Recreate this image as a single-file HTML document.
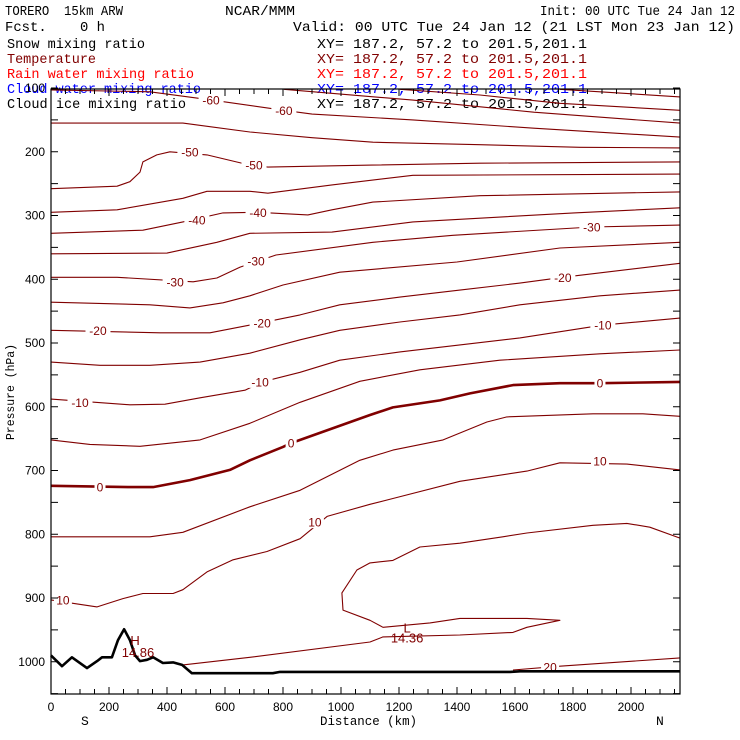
<!DOCTYPE html>
<html><head><meta charset="utf-8"><style>
html,body{margin:0;padding:0;background:#fff;}
svg{display:block;font-family:"Liberation Mono","DejaVu Sans Mono",monospace;}
#hdr text{white-space:pre;}
</style></head><body>
<svg id="chart" width="740" height="740" viewBox="0 0 740 740" xmlns="http://www.w3.org/2000/svg" xml:space="preserve">
<g id="hdr" font-size="14">
<text x="5" y="15" textLength="118" lengthAdjust="spacingAndGlyphs">TORERO  15km ARW</text>
<text x="225" y="15" textLength="70" lengthAdjust="spacingAndGlyphs">NCAR/MMM</text>
<text x="540" y="15" textLength="195" lengthAdjust="spacingAndGlyphs">Init: 00 UTC Tue 24 Jan 12</text>
<text x="5" y="31" textLength="100" lengthAdjust="spacingAndGlyphs">Fcst.    0 h</text>
<text x="293" y="31" textLength="442" lengthAdjust="spacingAndGlyphs">Valid: 00 UTC Tue 24 Jan 12 (21 LST Mon 23 Jan 12)</text>
<text x="7" y="48" fill="#000" textLength="138" lengthAdjust="spacingAndGlyphs">Snow mixing ratio</text>
<text x="317" y="48" fill="#000" textLength="270" lengthAdjust="spacingAndGlyphs">XY= 187.2, 57.2 to 201.5,201.1</text>
<text x="7" y="63" fill="#800000" textLength="89" lengthAdjust="spacingAndGlyphs">Temperature</text>
<text x="317" y="63" fill="#800000" textLength="270" lengthAdjust="spacingAndGlyphs">XY= 187.2, 57.2 to 201.5,201.1</text>
<text x="7" y="78" fill="#ff0000" textLength="187" lengthAdjust="spacingAndGlyphs">Rain water mixing ratio</text>
<text x="317" y="78" fill="#ff0000" textLength="270" lengthAdjust="spacingAndGlyphs">XY= 187.2, 57.2 to 201.5,201.1</text>
<text x="7" y="93" fill="#0000ff" textLength="194" lengthAdjust="spacingAndGlyphs">Cloud water mixing ratio</text>
<text x="317" y="93" fill="#0000ff" textLength="270" lengthAdjust="spacingAndGlyphs">XY= 187.2, 57.2 to 201.5,201.1</text>
<text x="7" y="108" fill="#000" textLength="179" lengthAdjust="spacingAndGlyphs">Cloud ice mixing ratio</text>
<text x="317" y="108" fill="#000" textLength="270" lengthAdjust="spacingAndGlyphs">XY= 187.2, 57.2 to 201.5,201.1</text>
</g>
<g id="plot"></g>
<text x="0" y="0" font-size="12" transform="translate(14,392) rotate(-90)" text-anchor="middle" textLength="96" lengthAdjust="spacingAndGlyphs">Pressure (hPa)</text>
<text x="320" y="725" font-size="13" textLength="97" lengthAdjust="spacingAndGlyphs">Distance (km)</text>
<text x="81" y="725" font-size="13">S</text>
<text x="656" y="725" font-size="13">N</text>
</svg>
<script>
// ---- data ----
const xTicks = [0,200,400,600,800,1000,1200,1400,1600,1800,2000];
const yTicks = [200,300,400,500,600,700,800,900,1000];
const contourValues = [-75,-70,-65,-60,-55,-50,-45,-40,-35,-30,-25,-20,-15,-10,-5,0,5,10,15,20];
const km_m75=[1755,1962,2169], p_m75=[102,108,114];
const km_m70=[1203,1479,1755,2169], p_m70=[102,111,124,135];
const km_m65=[803,1248,1665,2169], p_m65=[102,119,138,155];
const km_m60=[0,341,555,803,900,1248,1665,2169], p_m60=[103,106,119,135,141,150,163,177];
const km_m55=[0,455,686,900,1110,1479,1824,2169], p_m55=[155,155,169,178,185,189,193,194];
const km_m50=[0,228,272,307,317,365,410,538,686,748,1107,1479,2169], p_m50=[258,254,247,232,216,205,200,205,221,224,221,218,216];
const km_m45=[0,228,455,538,686,748,969,1248,2169], p_m45=[295,291,273,262,262,265,252,237,235];
const km_m40=[0,317,455,593,714,886,969,1110,1479,2169], p_m40=[328,323,310,296,295,299,291,279,269,263];
const km_m35=[0,400,572,686,969,1248,1803,2169], p_m35=[360,359,342,328,326,310,296,288];
const km_m30=[0,228,490,572,652,776,1110,1386,1865,2169], p_m30=[397,397,404,398,381,362,342,331,318,315];
const km_m25=[0,341,479,593,686,800,996,1400,1755,2169], p_m25=[436,440,445,437,426,409,389,373,351,342];
const km_m20=[0,376,548,686,859,996,1203,1410,1617,1765,2169], p_m20=[480,484,484,472,456,440,428,417,406,397,375];
const km_m15=[0,169,341,514,686,859,996,1203,1410,1617,1893,2169], p_m15=[530,535,535,530,516,495,480,467,456,440,426,417];
const km_m10=[0,272,393,514,669,728,859,996,1203,1410,1617,1903,2169], p_m10=[588,597,596,586,574,561,546,527,514,503,492,472,461];
const km_m5=[0,134,307,514,686,859,1065,1272,1548,1893,2169], p_m5=[652,659,662,652,626,593,560,542,527,517,511];
const km_0=[0,272,352,479,617,686,800,828,1100,1179,1341,1445,1593,1755,1893,2169], p_0=[724,726,726,715,699,684,663,657,613,601,590,579,566,563,563,561];
const km_5=[0,341,455,686,859,1065,1179,1352,1503,1572,1869,2041,2169], p_5=[804,804,797,757,731,684,668,652,624,616,611,611,615];
const km_10=[0,41,159,248,317,421,455,538,628,745,859,952,1100,1179,1410,1641,1755,1986,2169], p_10=[903,906,914,901,893,893,887,859,840,827,807,772,753,744,717,701,688,690,699];
const km_15=[455,686,1100,1145,1410,1593,1641,1755,1641,1410,1307,1145,1100,1007,1003,1055,1100,1179,1272,1410,1558,1641,1869,1986,2065,2169];
const p_15=[1005,993,969,961,958,954,946,935,932,932,939,946,935,919,892,856,845,841,820,814,804,798,786,783,789,806];
const km_20=[1593,1755,2169], p_20=[1013,1007,994];
const labelText=["-60","-60","-50","-50","-40","-40","-30","-30","-30","-20","-20","-20","-10","-10","-10","0","0","0","10","10","10","20"];
const labelKm=[552,803,479,700,503,714,428,707,1865,162,728,1765,100,721,1903,169,828,1893,41,910,1893,1721];
const labelP=[119,135,200,221,307,295,404,371,318,480,469,397,593,561,472,726,657,563,903,781,685,1008];
const terrainKm=[0,38,72,124,159,176,210,231,252,272,290,307,331,352,386,421,452,486,765,790,1583,1617,2169];
const terrainP=[990,1007,993,1010,999,993,993,966,949,966,990,999,997,993,1002,1001,1005,1018,1018,1016,1016,1015,1015];
const extremaText=["H","14.86","L","14.36"];
const extremaKm=[290,300,1228,1228];
const extremaP=[966,985,946,962];

// ---- axes ----
const X0=51,X1=680,Y0=89,Y1=694,KMAX=2169;
function xs(km){return X0+km*(X1-X0)/KMAX;}
function ys(p){return 88+(p-100)*0.6375;}
const NS='http://www.w3.org/2000/svg';
const plot=document.getElementById('plot');
function mk(tag,attrs,parent){const e=document.createElementNS(NS,tag);for(const k in attrs)e.setAttribute(k,attrs[k]);(parent||plot).appendChild(e);return e;}

const series=[[km_m75,p_m75],[km_m70,p_m70],[km_m65,p_m65],[km_m60,p_m60],[km_m55,p_m55],[km_m50,p_m50],[km_m45,p_m45],[km_m40,p_m40],[km_m35,p_m35],[km_m30,p_m30],[km_m25,p_m25],[km_m20,p_m20],[km_m15,p_m15],[km_m10,p_m10],[km_m5,p_m5],[km_0,p_0],[km_5,p_5],[km_10,p_10],[km_15,p_15],[km_20,p_20]];
const cg=mk('g',{});


series.forEach((s,i)=>{
  const d=s[0].map((k,j)=>(j?'L':'M')+xs(k).toFixed(1)+' '+ys(s[1][j]).toFixed(1)).join(' ');
  const path=mk('path',{d:d,fill:'none',stroke:'#800000','stroke-width':contourValues[i]===0?2.6:1.1,'stroke-linejoin':'round'},cg);
  
  
});
const lg=mk('g',{});


labelText.forEach((t,i)=>{
  const x=xs(labelKm[i]),y=ys(labelP[i]);
  const w=t.length*7+4;
  const r=mk('rect',{x:x-w/2,y:y-6,width:w,height:12,fill:'#fff'},lg);
  
  
  const tx=mk('text',{x:x,y:y+4.5,'text-anchor':'middle','font-size':12,fill:'#800000','font-family':'Liberation Sans, sans-serif'},lg);
  
  
  tx.textContent=t;
});
const td=terrainKm.map((k,j)=>(j?'L':'M')+xs(k).toFixed(1)+' '+ys(terrainP[j]).toFixed(1)).join(' ');
const terr=mk('path',{d:td,fill:'none',stroke:'#000','stroke-width':2.6,'stroke-linejoin':'round'});


extremaText.forEach((t,i)=>{
  const tx=mk('text',{x:xs(extremaKm[i]),y:ys(extremaP[i])+5,'text-anchor':'middle','font-size':13,fill:'#800000','font-family':'Liberation Sans, sans-serif'});
  
  
  tx.textContent=t;
});
const fr=mk('rect',{x:X0,y:Y0,width:X1-X0,height:Y1-Y0,fill:'none',stroke:'#000','stroke-width':1.2});


const tg=mk('g',{stroke:'#000','stroke-width':1});


for(let k=0;k<=2150;k+=50){
  const x=xs(k),L=(k%200===0)?7:5;
  mk('line',{x1:x,y1:Y1,x2:x,y2:Y1-L},tg);
  mk('line',{x1:x,y1:Y0,x2:x,y2:Y0+L},tg);
}
for(let p=100;p<=1050;p+=50){
  const y=ys(p);
  mk('line',{x1:X0,y1:y,x2:X0+7,y2:y},tg);
  mk('line',{x1:X1,y1:y,x2:X1-7,y2:y},tg);
}
xTicks.forEach(k=>{
  const t=mk('text',{x:xs(k),y:711,'text-anchor':'middle','font-size':12,'font-family':'Liberation Sans, sans-serif'});
  
  
  t.textContent=k;
});
yTicks.forEach(p=>{
  const t=mk('text',{x:45,y:ys(p)+4,'text-anchor':'end','font-size':12,'font-family':'Liberation Sans, sans-serif'});
  
  
  t.textContent=p;
});
const t100=mk('text',{x:45,y:ys(100)+4,'text-anchor':'end','font-size':12,'font-family':'Liberation Sans, sans-serif'});


t100.textContent='100';
</script>
</body></html>
